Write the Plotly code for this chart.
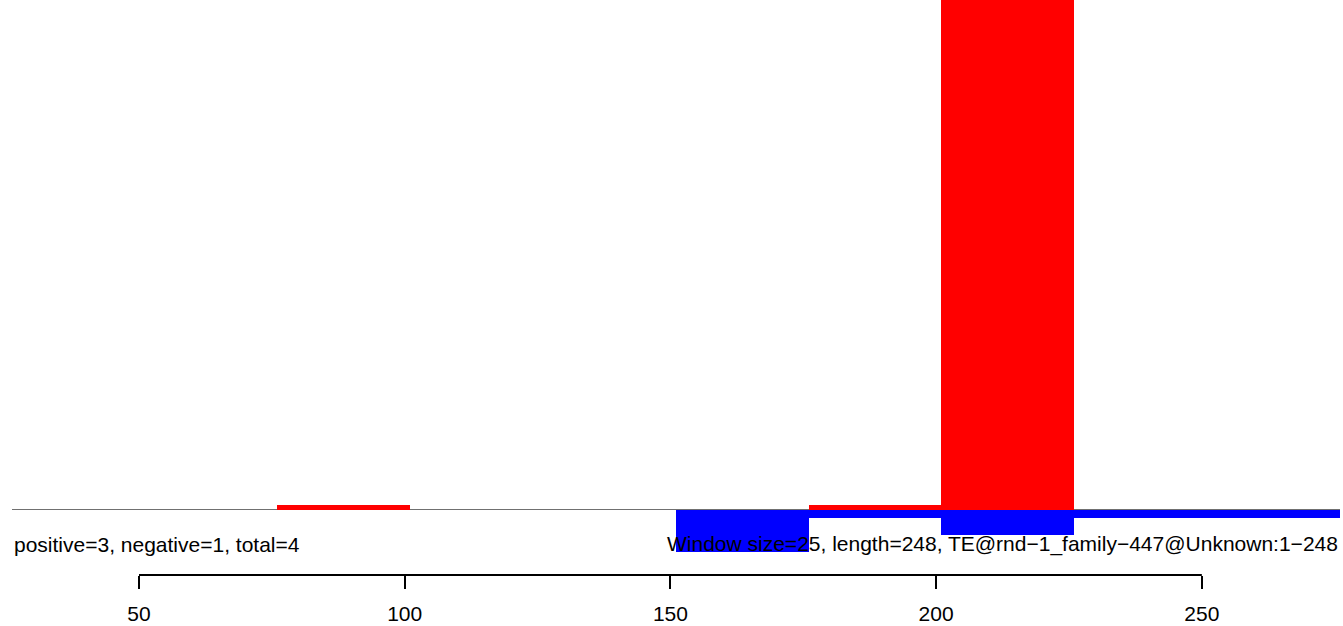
import plotly.graph_objects as go

# Window data (window size 25)
window_starts = [1, 26, 51, 76, 101, 126, 151, 176, 201, 226, 251]
window_size = 25
positive_vals = [0, 0, 0, 1, 0, 0, 0, 1, 150, 0, 0]
negative_vals = [0, 0, 0, 0, 0, 0, -10, -2, -6, -2, -2]
tick_vals = [50, 100, 150, 200, 250]
tick_text = ["50", "100", "150", "200", "250"]
left_label = "positive=3, negative=1, total=4"
right_label = "Window size=25, length=248, TE@rnd\u22121_family\u2212447@Unknown:1\u2212248"

centers = [s + window_size / 2 for s in window_starts]

W, H = 1343, 626
fig = go.Figure()
fig.add_trace(go.Bar(x=centers, y=positive_vals, width=window_size,
                     marker=dict(color="#FF0000", line=dict(width=0)), showlegend=False))
fig.add_trace(go.Bar(x=centers, y=negative_vals, width=window_size,
                     marker=dict(color="#0000FF", line=dict(width=0)), showlegend=False))

font = dict(family="Liberation Sans, Arial, Helvetica, sans-serif", size=21, color="black")

fig.update_layout(
    width=W, height=H,
    margin=dict(l=12, r=3, t=0, b=0),
    paper_bgcolor="white", plot_bgcolor="white",
    barmode="overlay", bargap=0,
    font=font,
    xaxis=dict(range=[26.1, 276.0], showgrid=False, zeroline=False, showline=False,
               tickvals=tick_vals, ticktext=tick_text, ticks="outside", ticklen=13,
               tickwidth=2, tickcolor="black", ticklabelstandoff=7,
               tickfont=font),
    yaxis=dict(domain=[1 - 575 / H, 1], range=[-15.41, 119.88], showgrid=False,
               showticklabels=False, ticks="", showline=False,
               zeroline=True, zerolinecolor="#707070", zerolinewidth=1),
    shapes=[dict(type="line", xref="x", yref="y domain", x0=tick_vals[0], x1=tick_vals[-1],
                 y0=0, y1=0, line=dict(color="black", width=2))],
    annotations=[
        dict(text=left_label, xref="paper", yref="paper", x=0, y=1 - 544 / H,
             xanchor="left", yanchor="middle", showarrow=False, font=font),
        dict(text=right_label, xref="paper", yref="paper", x=1, y=1 - 544 / H,
             xanchor="right", yanchor="middle", showarrow=False, font=font),
    ],
)

fig.write_html("out.html", config={"displayModeBar": False},
               post_script="document.body.style.margin='0px';")
